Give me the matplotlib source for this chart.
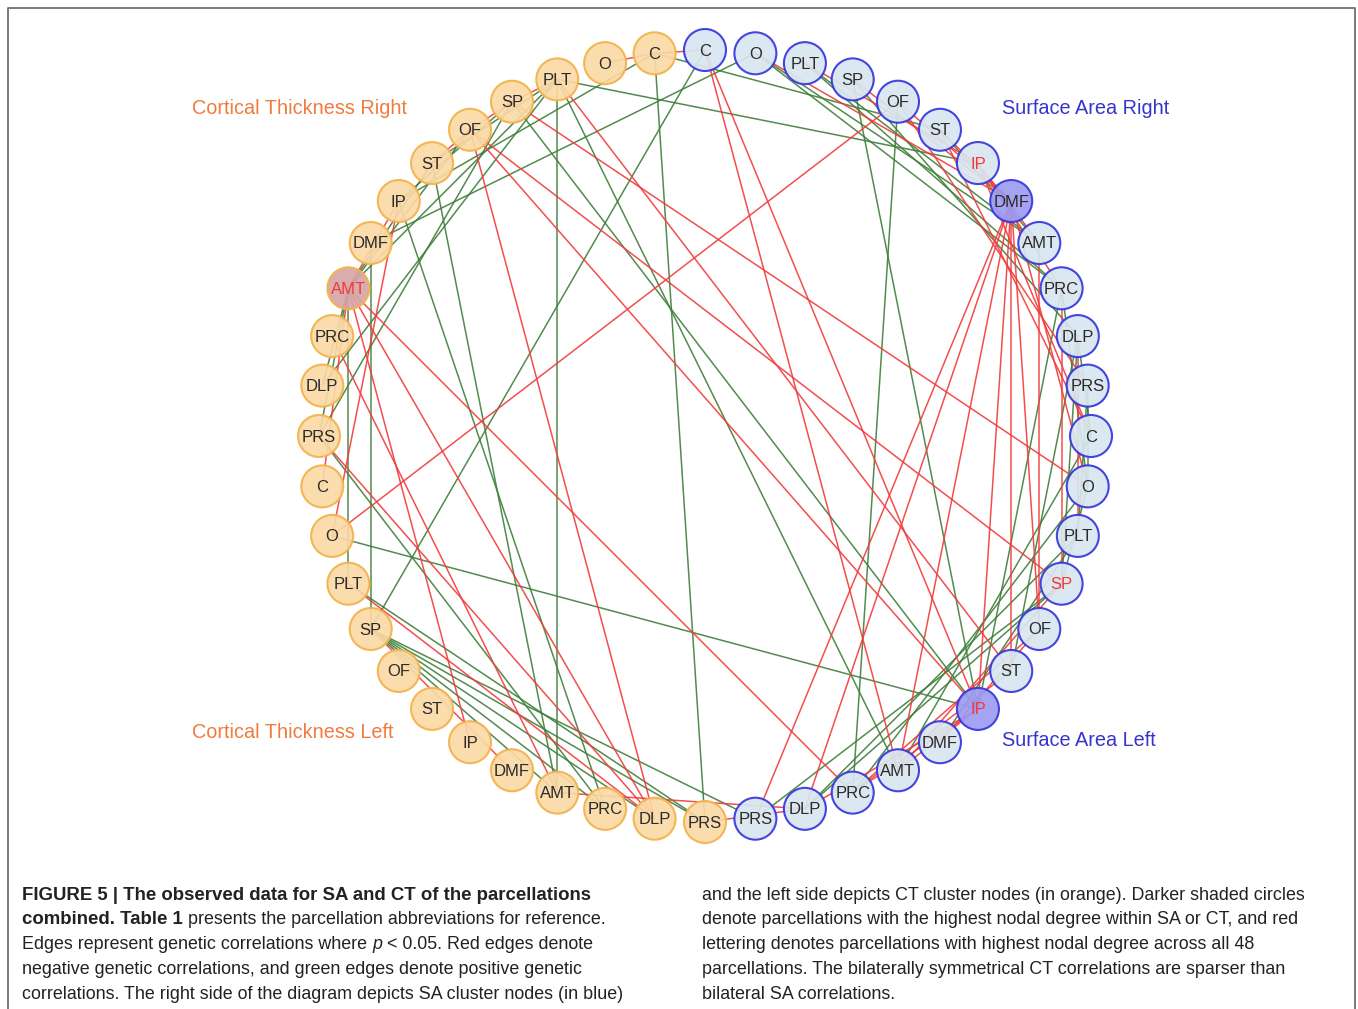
import numpy as np
import matplotlib.pyplot as plt
from matplotlib.patches import Circle

# parcellation names, in the order they sit round each quarter of the ring
regions = ['C', 'O', 'PLT', 'SP', 'OF', 'ST', 'IP', 'DMF', 'AMT', 'PRC', 'DLP', 'PRS']
# SA right / SA left run clockwise, CT left / CT right run back up
groups = ['SR', 'SL', 'CL', 'CR']

# darker shaded nodes (highest degree inside SA or CT) and red lettering
dark_nodes = ['SR DMF', 'SL IP', 'CR AMT']
red_label_nodes = ['SR IP', 'SL SP', 'SL IP', 'CR AMT']

# edges: negative genetic correlations (red)
neg_edges = [
    ('SR C', 'SL AMT'), ('SR C', 'SL IP'), ('CR O', 'CR C'), ('CR C', 'SR C'),
    ('CR PLT', 'SL ST'), ('CR OF', 'CL DLP'), ('CR OF', 'SL SP'), ('CR OF', 'SL IP'),
    ('CR SP', 'SL O'), ('SR DMF', 'SL PRS'), ('SR DMF', 'SL DLP'), ('SR DMF', 'SL AMT'),
    ('SR DMF', 'SL IP'), ('SR DMF', 'SL ST'), ('SR DMF', 'SL O'), ('SR DMF', 'SL OF'),
    ('CL PLT', 'CL DLP'), ('CR AMT', 'CL IP'), ('CR PRC', 'CL AMT'), ('CR AMT', 'CL DLP'),
    ('CR AMT', 'SL PRC'), ('CL O', 'SR OF'), ('CR PRS', 'CL DLP'), ('CR IP', 'CL O'),
    ('CL SP', 'CL DMF'), ('CL AMT', 'SL DLP'), ('CL PRS', 'SL DLP'), ('SR PRC', 'SL SP'),
    ('SR DLP', 'SL PLT'), ('SR AMT', 'SL OF'), ('SR OF', 'SR PRS'), ('SR ST', 'SL C'),
    ('SR O', 'SR DMF'), ('SR SP', 'SR DMF'), ('SR OF', 'SR DMF'), ('SR ST', 'SR DMF'),
    ('SR IP', 'SR AMT'), ('SR IP', 'SR PRC'), ('SR PLT', 'SR IP'), ('SR IP', 'SL C'),
    ('SL PRC', 'SL IP'), ('SL AMT', 'SL IP'), ('SL PRC', 'SL OF'), ('SL AMT', 'SL SP'),
    ('SL DMF', 'SL OF'), ('SL PRC', 'SL ST'), ('SL DLP', 'SL IP'),
    ('CR ST', 'CR OF'), ('CR OF', 'CR SP'), ('CR SP', 'CR PLT'), ('CR AMT', 'CR IP'),
    ('CR AMT', 'CL C'),
]

# edges: positive genetic correlations (green)
pos_edges = [
    ('SR C', 'CL SP'), ('CR PLT', 'SR IP'), ('CR PLT', 'CL AMT'), ('CR ST', 'CL AMT'),
    ('CR SP', 'SL IP'), ('CR PLT', 'CR AMT'), ('SR OF', 'SL PRC'), ('SR SP', 'SL IP'),
    ('CL O', 'SL IP'), ('CR C', 'CL PRS'), ('CR PRS', 'CR SP'), ('CR PRS', 'CL PRC'),
    ('CR AMT', 'CL PLT'), ('CR DMF', 'CL SP'), ('CR C', 'CR IP'), ('CR C', 'SR ST'),
    ('CR PLT', 'SL AMT'), ('CR IP', 'CL PRC'), ('CL SP', 'CL AMT'), ('CL SP', 'CL PRC'),
    ('CL SP', 'CL DLP'), ('CL SP', 'CL PRS'), ('CL SP', 'SL PRS'), ('CL PLT', 'CL PRS'),
    ('SR PRC', 'SL IP'), ('SR DLP', 'SL ST'), ('SL DLP', 'SL PLT'), ('SL DLP', 'SL SP'),
    ('SL PRC', 'SL O'), ('SL AMT', 'SL C'), ('SL PRS', 'SL SP'), ('SL DMF', 'SL PLT'),
    ('SR O', 'SR AMT'), ('SR O', 'SR PRC'), ('SR PLT', 'SR PRC'), ('SR PLT', 'SR AMT'),
    ('SR ST', 'SR AMT'), ('SR SP', 'SR DLP'), ('SR PRC', 'SL O'), ('SR DLP', 'SL C'),
    ('SR PRS', 'SL O'), ('SR PRS', 'SL PLT'), ('SL O', 'SL SP'), ('SR DLP', 'SL SP'),
    ('CR AMT', 'CR ST'), ('CR AMT', 'CR OF'), ('CR AMT', 'CR DLP'), ('CR DMF', 'SR O'),
    ('CR IP', 'CR SP'), ('CR ST', 'CR PLT'), ('CR DLP', 'CR PLT'), ('CR PRS', 'CR AMT'),
]

group_titles = ['Surface Area Right', 'Surface Area Left',
                'Cortical Thickness Left', 'Cortical Thickness Right']

caption_left = [
    [("FIGURE 5 | The observed data for SA and CT of the parcellations", 'bold', 'normal')],
    [("combined. Table 1", 'bold', 'normal'),
     (" presents the parcellation abbreviations for reference.", 'normal', 'normal')],
    [("Edges represent genetic correlations where ", 'normal', 'normal'), ("p", 'normal', 'italic'),
     (" < 0.05. Red edges denote", 'normal', 'normal')],
    [("negative genetic correlations, and green edges denote positive genetic", 'normal', 'normal')],
    [("correlations. The right side of the diagram depicts SA cluster nodes (in blue)", 'normal', 'normal')],
]
caption_right = [
    "and the left side depicts CT cluster nodes (in orange). Darker shaded circles",
    "denote parcellations with the highest nodal degree within SA or CT, and red",
    "lettering denotes parcellations with highest nodal degree across all 48",
    "parcellations. The bilaterally symmetrical CT correlations are sparser than",
    "bilateral SA correlations.",
]

plt.rcParams['font.family'] = ['Liberation Sans', 'DejaVu Sans']

W, H = 1358, 1009
fig = plt.figure(figsize=(W / 100, H / 100), dpi=100)
ax = fig.add_axes([0, 0, 1, 1])
ax.set_xlim(0, W)
ax.set_ylim(H, 0)
ax.axis('off')

# outer frame
ax.plot([8, 8, 1355, 1355], [1012, 8, 8, 1012], color='#7a7a7a', lw=1.4, zorder=0)

# ring layout
cx, cy, R = 705, 436, 386
ring = []
for g in groups:
    order = regions if g in ('SR', 'SL') else regions[::-1]
    ring += [g + ' ' + r for r in order]
pos = {}
for k, name in enumerate(ring):
    th = np.deg2rad(k * 360 / len(ring))
    pos[name] = (cx + R * np.sin(th), cy - R * np.cos(th))

# edges
for edges, col in [(pos_edges, '#3f7f3a'), (neg_edges, '#f23b3b')]:
    for a, b in edges:
        ax.plot([pos[a][0], pos[b][0]], [pos[a][1], pos[b][1]],
                color=col, lw=1.1, alpha=0.9, zorder=1, solid_capstyle='round')

# nodes
for name in ring:
    g, r = name.split()
    sa = g.startswith('S')
    if name in dark_nodes:
        fc = '#9c9cf2' if sa else '#d6a6a6'
    else:
        fc = '#d9e7f0' if sa else '#fad9a6'
    ec = '#3535e0' if sa else '#f4b24a'
    ax.add_patch(Circle(pos[name], 21, facecolor=fc, edgecolor=ec, lw=1.5,
                        alpha=0.92, zorder=2))
    ax.text(pos[name][0], pos[name][1] + 1, r, ha='center', va='center',
            fontsize=12, color='#f03a3a' if name in red_label_nodes else '#2a2a2a',
            zorder=3)

# group titles
title_pos = {'Surface Area Right': (1002, 108), 'Surface Area Left': (1002, 740),
             'Cortical Thickness Left': (192, 733), 'Cortical Thickness Right': (192, 108)}
for t in group_titles:
    c = '#3535cc' if t.startswith('Surface') else '#ef7b3e'
    ax.text(title_pos[t][0], title_pos[t][1], t, ha='left', va='center',
            fontsize=14.3, color=c)

# caption
renderer = fig.canvas.get_renderer()
y0, dy = 895, 24.8
for i, runs in enumerate(caption_left):
    x = 22
    for txt, wt, st in runs:
        fs = 13.4 if wt == 'bold' else 12.9
        t = ax.text(x, y0 + i * dy, txt, ha='left', va='center', fontsize=fs,
                    fontweight=wt, fontstyle=st, color='#222222')
        x += t.get_window_extent(renderer).width
for i, line in enumerate(caption_right):
    ax.text(702, y0 + i * dy, line, ha='left', va='center', fontsize=12.9, color='#222222')

fig.savefig('out.png', dpi=100)
